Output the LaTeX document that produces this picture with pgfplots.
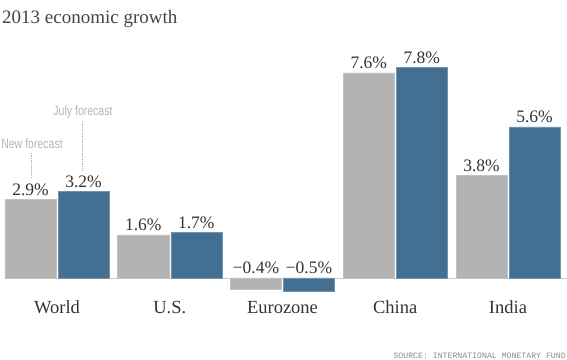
\documentclass[border=0pt]{standalone}
\usepackage{fontspec}
\setmainfont{Liberation Serif}
\newfontfamily\annfont{Liberation Sans}
\newfontfamily\srcfont{Liberation Mono}
\usepackage{pgfplots}
\pgfplotsset{compat=1.18}
\definecolor{bargray}{HTML}{B3B3B3}
\definecolor{barblue}{HTML}{426F92}
\definecolor{titlegray}{HTML}{444444}
\definecolor{catgray}{HTML}{333333}
\definecolor{anngray}{HTML}{B5B5B5}
\definecolor{srcgray}{HTML}{8A8A8A}
\definecolor{basegray}{HTML}{CCCCCC}
\tikzset{catlabel/.style={anchor=base, inner sep=0pt, text=catgray, font=\fontsize{18.5}{21}\selectfont}}
\begin{document}
\begin{tikzpicture}
\useasboundingbox (0,0) rectangle (567pt,359pt);
\begin{axis}[
  at={(5pt,0pt)}, anchor=south west,
  scale only axis, width=562pt, height=359pt,
  xmin=-0.4612, xmax=4.5233, ymin=-3, ymax=10.296,
  clip=false,
  axis line style={draw=none},
  xtick=\empty, ytick=\empty,
  extra y ticks={0}, extra y tick labels={},
  extra y tick style={grid=major, major tick length=0pt,
     major grid style={color=basegray, line width=0.8pt}},
  ybar=2pt, bar width=51pt,
  point meta=explicit symbolic,
  nodes near coords,
  every node near coord/.append style={anchor=base, inner sep=0pt,
     font=\fontsize{17.5}{19}\selectfont, text=catgray, yshift=4pt},
]
\addplot[fill=bargray, draw=bargray!80!white, line width=0.5pt] coordinates {
  (0,2.9) [2.9\%]
  (1,1.6) [1.6\%]
  (2,-0.4) [\raisebox{10.8pt}{−0.4\%}]
  (3,7.6) [7.6\%]
  (4,3.8) [3.8\%]
};
\addplot[fill=barblue, draw=barblue!75!white, line width=0.5pt] coordinates {
  (0,3.2) [3.2\%]
  (1,1.7) [1.7\%]
  (2,-0.5) [\raisebox{13.5pt}{−0.5\%}]
  (3,7.8) [7.8\%]
  (4,5.6) [5.6\%]
};
% title
\node[anchor=base west, inner sep=0pt, text=titlegray, font=\fontsize{19}{22}\selectfont]
  at (axis cs:-0.4878,9.444) {2013 economic growth};
% category labels
\node[catlabel] at (axis cs:0,-1.333) {World};
\node[catlabel] at (axis cs:1,-1.333) {U.S.};
\node[catlabel] at (axis cs:2,-1.333) {Eurozone};
\node[catlabel] at (axis cs:3,-1.333) {China};
\node[catlabel] at (axis cs:4,-1.333) {India};
% annotations
\node[anchor=base, inner sep=0pt, text=anngray, font=\annfont\fontsize{13.5}{15}\selectfont]
  at (axis cs:-0.2217,4.778) {\scalebox{0.78}[1]{New forecast}};
\node[anchor=base, inner sep=0pt, text=anngray, font=\annfont\fontsize{13.5}{15}\selectfont]
  at (axis cs:0.2306,6.0) {\scalebox{0.78}[1]{July forecast}};
\draw[anngray, densely dotted, line width=0.7pt] (axis cs:-0.224,4.63) -- (axis cs:-0.224,3.70);
\draw[anngray, densely dotted, line width=0.7pt] (axis cs:0.228,5.78) -- (axis cs:0.228,4.0);
% source
\node[anchor=base east, inner sep=0pt, text=srcgray, font=\srcfont\fontsize{8.2}{9}\selectfont]
  at (axis cs:4.514,-2.963) {SOURCE: INTERNATIONAL MONETARY FUND};
\end{axis}
\end{tikzpicture}
\end{document}
